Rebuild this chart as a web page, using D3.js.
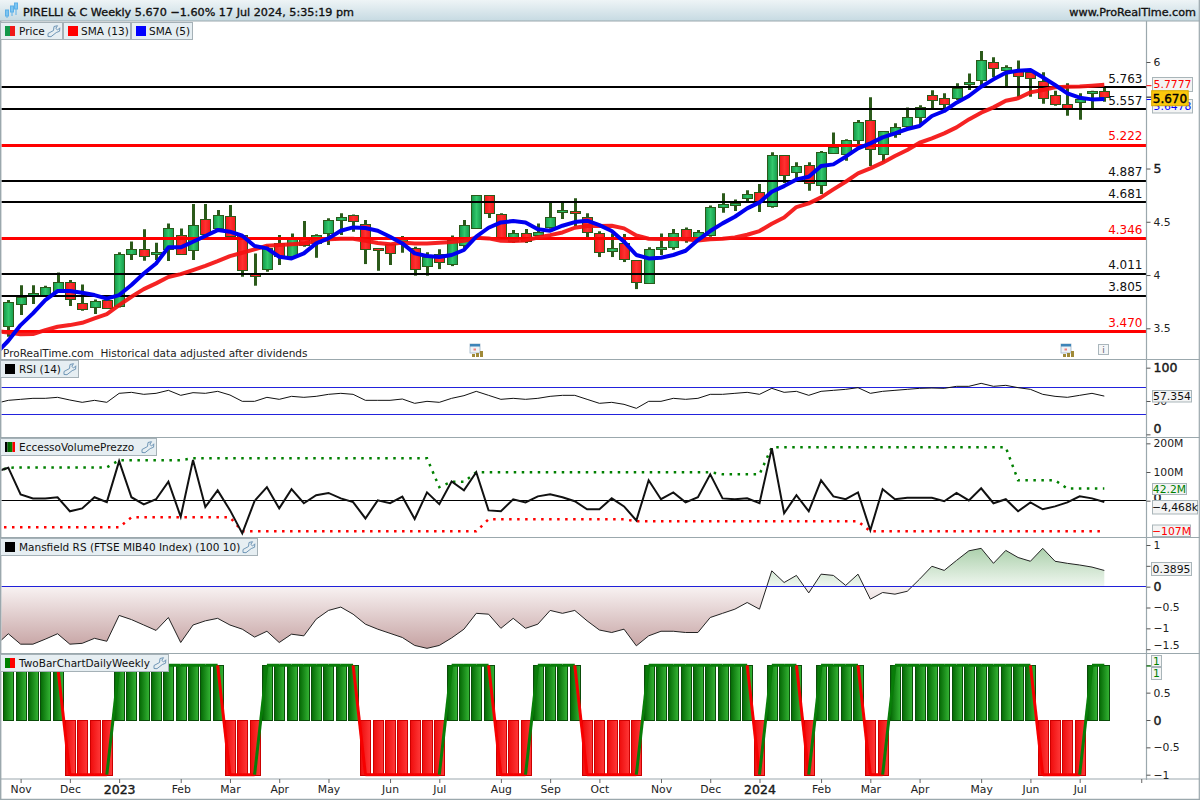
<!DOCTYPE html>
<html><head><meta charset="utf-8">
<script src="https://cdn.jsdelivr.net/npm/d3@7"></script>
<style>html,body{margin:0;padding:0;background:#fff}svg{display:block}text{font-family:"DejaVu Sans",sans-serif;white-space:pre}</style>
</head><body><svg id="c" width="1200" height="800"></svg>
<script>
const opens=[3.524,3.734,3.824,3.815,3.853,3.937,3.734,3.706,3.765,3.702,4.200,4.247,4.203,4.250,4.378,4.241,4.529,4.438,4.557,4.372,4.006,4.053,4.297,4.178,4.360,4.297,4.391,4.522,4.560,4.479,4.250,4.288,4.322,4.250,4.091,4.200,4.106,4.281,4.435,4.748,4.569,4.313,4.391,4.378,4.450,4.601,4.598,4.541,4.391,4.219,4.297,4.138,3.922,4.253,4.260,4.429,4.344,4.369,4.635,4.663,4.717,4.776,4.641,5.123,4.964,5.030,4.842,5.152,5.133,5.270,5.452,5.133,5.324,5.393,5.480,5.687,5.665,5.662,5.803,5.828,5.997,5.931,5.915,5.903,5.825,5.693,5.609,5.630,5.724,5.728];
const closes=[3.749,3.796,3.834,3.890,3.937,3.774,3.677,3.759,3.687,4.194,4.247,4.184,4.219,4.444,4.200,4.472,4.391,4.560,4.372,4.044,3.997,4.250,4.172,4.341,4.281,4.372,4.513,4.548,4.504,4.241,4.235,4.203,4.341,4.053,4.172,4.128,4.328,4.466,4.748,4.579,4.335,4.391,4.313,4.407,4.541,4.607,4.579,4.400,4.213,4.250,4.144,3.931,4.241,4.260,4.391,4.328,4.400,4.635,4.663,4.679,4.757,4.679,5.123,4.936,5.020,4.860,5.152,5.205,5.264,5.436,5.180,5.349,5.393,5.480,5.574,5.640,5.612,5.756,5.809,6.015,5.940,5.956,5.871,5.846,5.665,5.612,5.568,5.656,5.731,5.670];
const highs=[3.765,3.903,3.903,3.900,4.025,3.953,3.912,3.771,3.781,4.213,4.316,4.429,4.303,4.485,4.438,4.666,4.666,4.610,4.657,4.375,4.203,4.281,4.375,4.391,4.507,4.382,4.532,4.579,4.569,4.516,4.250,4.297,4.366,4.266,4.213,4.241,4.372,4.516,4.748,4.748,4.579,4.422,4.432,4.485,4.679,4.679,4.720,4.579,4.410,4.391,4.385,4.138,4.260,4.391,4.432,4.447,4.422,4.654,4.767,4.710,4.795,4.854,5.152,5.123,5.058,5.058,5.164,5.339,5.274,5.455,5.668,5.349,5.424,5.574,5.593,5.734,5.706,5.800,5.893,6.103,6.044,5.969,6.015,5.931,5.903,5.731,5.800,5.706,5.731,5.768];
const lows=[3.421,3.624,3.727,3.796,3.843,3.709,3.665,3.634,3.687,3.696,4.141,4.134,4.141,4.131,4.191,4.141,4.344,4.422,4.360,3.984,3.900,4.031,4.094,4.172,4.266,4.162,4.281,4.375,4.407,4.103,4.040,4.094,4.209,3.994,3.994,4.056,4.084,4.250,4.435,4.535,4.328,4.300,4.300,4.372,4.435,4.526,4.460,4.353,4.169,4.169,4.122,3.868,3.922,4.188,4.238,4.303,4.328,4.360,4.585,4.601,4.688,4.591,4.632,4.864,4.873,4.792,4.760,5.152,5.073,5.220,5.023,5.064,5.289,5.377,5.418,5.565,5.555,5.643,5.737,5.784,5.856,5.774,5.668,5.674,5.609,5.590,5.496,5.458,5.562,5.627];
// moving averages, oscillators: first value belongs to the week before the first candle (clipped at the frame)
const sma13=[3.474,3.461,3.443,3.446,3.483,3.515,3.530,3.552,3.593,3.634,3.718,3.796,3.868,3.922,3.981,4.009,4.047,4.087,4.131,4.178,4.209,4.241,4.275,4.281,4.288,4.297,4.319,4.335,4.341,4.341,4.322,4.300,4.288,4.306,4.297,4.297,4.303,4.310,4.322,4.350,4.344,4.322,4.319,4.325,4.353,4.375,4.400,4.444,4.460,4.460,4.463,4.438,4.372,4.341,4.338,4.338,4.335,4.325,4.335,4.341,4.353,4.378,4.413,4.482,4.541,4.638,4.673,4.729,4.804,4.876,4.954,5.001,5.055,5.117,5.174,5.242,5.283,5.330,5.386,5.461,5.524,5.574,5.637,5.659,5.715,5.737,5.762,5.768,5.771,5.778,5.787];
const sma5=[3.264,3.383,3.530,3.640,3.765,3.850,3.850,3.834,3.812,3.778,3.812,3.906,4.015,4.109,4.260,4.260,4.313,4.366,4.422,4.407,4.369,4.272,4.250,4.172,4.156,4.203,4.297,4.344,4.416,4.447,4.441,4.416,4.360,4.297,4.203,4.178,4.169,4.188,4.235,4.360,4.444,4.494,4.507,4.494,4.429,4.416,4.463,4.497,4.510,4.469,4.413,4.313,4.188,4.156,4.163,4.188,4.228,4.328,4.413,4.485,4.547,4.626,4.682,4.782,4.835,4.898,4.923,5.023,5.039,5.111,5.189,5.236,5.292,5.330,5.371,5.399,5.493,5.540,5.618,5.681,5.768,5.837,5.900,5.918,5.925,5.856,5.784,5.706,5.665,5.649,5.652];
const rsi=[46.5,51,52.5,54,54,55.5,51.5,48,51,48,61.5,63,60,61.5,66,58.5,62.5,61.5,64.5,59,49.5,49.5,55.5,52.5,57,55.5,57,60,61.5,60,51,51,51,53,46.5,49.5,48,54,58,64.5,58.5,52.5,54,52.5,54,57,58.5,58.5,52.5,46.5,48,45,39,49.5,49.5,54,52.5,54,60,60,61.5,63,60,69,63,64.5,58.5,64.5,66,67.5,70,61.5,64.5,66,67.5,69,69.5,69,72,72,76.5,72,73.5,70,67.5,60,57,55.5,58.5,61.5,57.354];
const evp=[101,115,22,8,8,12,-37,-27,12,-5,138,12,-13,5,66,-56,142,-22,36,-33,-114,-1,47,-27,40,-9,19,27,8,-5,-62,1,-9,14,-64,29,-12,67,36,99,-34,-37,5,-6,15,22,12,-2,-30,-30,8,-20,-69,71,5,29,-6,12,92,8,5,8,-9,183,-44,19,-37,71,15,5,29,-103,40,5,10,10,10,-2,27,1,43,-9,5,-37,-6,-30,-20,-6,15,8,-4.468];
const evpUpper=[101,115,116,116,116,116,116,116,116,116,141,141,141,141,141,141,148,148,148,148,148,148,148,148,148,148,148,148,148,148,148,148,148,148,148,148,47,66,66,99,99,99,99,99,99,99,99,99,99,99,99,99,99,99,99,99,99,99,99,92,92,92,92,186,186,186,186,186,186,186,186,186,186,186,186,186,186,186,186,186,186,186,186,71,71,71,71,42.2,42.2,42.2,42.2];
const evpLower=[-93,-93,-93,-93,-93,-93,-93,-93,-93,-93,-93,-58,-58,-58,-58,-58,-58,-58,-58,-58,-107,-107,-107,-107,-107,-107,-107,-107,-107,-107,-107,-107,-107,-107,-107,-107,-107,-107,-107,-107,-65,-65,-65,-65,-65,-65,-65,-65,-65,-65,-65,-65,-72,-72,-72,-72,-72,-72,-72,-72,-72,-72,-72,-72,-72,-72,-72,-72,-72,-72,-72,-107,-107,-107,-107,-107,-107,-107,-107,-107,-107,-107,-107,-107,-107,-107,-107,-107,-107,-107,-107];
const mansfield=[-1.40,-1.13,-1.38,-1.38,-1.26,-1.13,-1.38,-1.36,-1.24,-1.31,-0.69,-0.79,-0.92,-1.05,-0.74,-1.34,-0.92,-0.82,-0.76,-0.92,-1.02,-1.21,-1.07,-1.34,-1.14,-1.18,-0.78,-0.57,-0.49,-0.66,-0.90,-1.02,-1.12,-1.22,-1.41,-1.48,-1.41,-1.23,-1.02,-0.64,-0.66,-1.00,-0.76,-1.00,-0.90,-0.57,-0.64,-0.57,-0.82,-1.04,-1.10,-1.02,-1.42,-1.18,-1.07,-1.07,-1.10,-1.10,-0.74,-0.64,-0.54,-0.38,-0.54,0.38,0.10,0.27,-0.15,0.30,0.27,0.03,0.30,-0.30,-0.14,-0.18,-0.11,0.18,0.49,0.39,0.63,0.86,0.92,0.56,0.87,0.70,0.61,0.92,0.61,0.56,0.52,0.47,0.3895];
const twoBar=[1,1,1,1,1,-1,-1,-1,-1,1,1,1,1,1,1,1,1,1,-1,-1,-1,1,1,1,1,1,1,1,1,-1,-1,-1,-1,-1,-1,-1,1,1,1,1,-1,-1,-1,1,1,1,1,-1,-1,-1,-1,-1,1,1,1,1,1,1,1,1,1,-1,1,1,1,-1,1,1,1,1,-1,-1,1,1,1,1,1,1,1,1,1,1,1,1,-1,-1,-1,-1,1,1];
const blackLevels=[5.763,5.557,4.887,4.681,4.011,3.805];
const redLevels=[5.222,4.346,3.470];
const monthTicks=[1,5,9,14,18,22,26,31,35,40,44,48,53,57,61,66,70,74,79,83,87,92];
const monthLabels=["Nov","Dec","2023","Feb","Mar","Apr","May","Jun","Jul","Aug","Sep","Oct","Nov","Dec","2024","Feb","Mar","Apr","May","Jun","Jul",""];
const titleText="PIRELLI & C Weekly 5.670 −1.60% 17 Jul 2024, 5:35:19 pm";
const frameC="#9ba8ad", legFill="#e6eef2", dark="#2b5a1a";

const svg=d3.select("#c");
const defs=svg.append("defs");
function hgrad(id,stops,y1,y2){
  const g=defs.append("linearGradient").attr("id",id);
  if(y1!==undefined) g.attr("gradientUnits","userSpaceOnUse").attr("x1",0).attr("x2",0).attr("y1",y1).attr("y2",y2);
  stops.forEach((c,i)=>g.append("stop").attr("offset",i/(stops.length-1)).attr("stop-color",c));
}
hgrad("cg",["#13984a","#33c86c","#159a4c"]);
hgrad("cr",["#ee1818","#ff3030","#f01a1a"]);
hgrad("bg",["#046804","#35b535"]);
hgrad("br",["#ee0c0c","#ff3838"]);
hgrad("head",["#eef4f6","#c6dae2"],0,21);
hgrad("mg",["#a6cda6","#f0f7f0"],545,586.7);
hgrad("mr",["#f8f2f2","#c4a0a0"],586.7,650);

const x=d3.scaleLinear().domain([0,89]).range([8.3,1104.3]);
const yP=d3.scaleLinear().domain([3.5,6]).range([328.3,62]);
const yR=d3.scaleLinear().domain([0,100]).range([434.33,367.67]);
const yV=d3.scaleLinear().domain([0,100]).range([500.67,472]);
const yM=d3.scaleLinear().domain([0,1]).range([586.67,545]);
const yT=d3.scaleLinear().domain([-1,1]).range([774.7,665.3]);
const AX=1146.5;
const snap=v=>Math.round(v)+.5;
const floorSnap=v=>Math.floor(v)+.5;

function clip(id,y0,y1){defs.append("clipPath").attr("id",id).append("rect").attr("x",1.5).attr("y",y0).attr("width",AX-1.5).attr("height",y1-y0);}
clip("cp",21,359);clip("cr1",360,437);clip("cv",438,537);clip("cm",538,653);clip("ct",654,779);

// semi-bold look: regular glyph widths with a thin outline
const semi=(t,w)=>t.attr("stroke",t.attr("fill")||"#111").attr("stroke-width",w||.35);

// header
svg.append("rect").attr("x",0).attr("y",0).attr("width",1200).attr("height",21).attr("fill","url(#head)");
const logo=svg.append("g").attr("stroke","#5bb0e8").attr("fill","#7cc4f0");
[[7,13,17,11,16],[12,9,15,7,14],[16,6,12,4,13]].forEach(d=>{logo.append("line").attr("x1",d[0]).attr("x2",d[0]).attr("y1",d[3]).attr("y2",d[4]+2);logo.append("rect").attr("x",d[0]-1.5).attr("y",d[1]-3).attr("width",3).attr("height",6);});
semi(svg.append("text").attr("x",23).attr("y",16).attr("font-size",11.2).attr("fill","#111").text(titleText));
semi(svg.append("text").attr("x",1196).attr("y",16).attr("text-anchor","end").attr("font-size",11.2).attr("fill","#111").text("www.ProRealTime.com"));

// Price panel
const P=svg.append("g").attr("clip-path","url(#cp)");
const idx=d3.range(opens.length);
P.selectAll(".wick").data(idx).join("line").attr("x1",i=>snap(x(i))).attr("x2",i=>snap(x(i))).attr("y1",i=>yP(highs[i])).attr("y2",i=>yP(lows[i])).attr("stroke",dark).attr("stroke-width",3);
P.selectAll(".body").data(idx).join("rect").attr("x",i=>snap(x(i))-5).attr("width",10)
 .attr("y",i=>snap(yP(Math.max(opens[i],closes[i]))))
 .attr("height",i=>Math.max(2,Math.round(Math.abs(yP(opens[i])-yP(closes[i])))))
 .attr("fill",i=>closes[i]>=opens[i]?"url(#cg)":"url(#cr)").attr("stroke",dark).attr("stroke-width",1);
blackLevels.concat(redLevels).forEach(v=>{
  const red=redLevels.includes(v);
  const yy=Math.round(yP(v));
  P.append("line").attr("x1",1).attr("x2",AX).attr("y1",red?yy+.5:yy).attr("y2",red?yy+.5:yy).attr("stroke",red?"#f00":"#000").attr("stroke-width",red?3:2);
});
const lineFrom=(arr,y)=>d3.line().x((d,i)=>x(i-1)).y(d=>y(d))(arr);
P.append("path").attr("d",lineFrom(sma13,yP)).attr("fill","none").attr("stroke","#f41010").attr("stroke-width",4).attr("stroke-linejoin","round").attr("opacity",.92);
P.append("path").attr("d",lineFrom(sma5,yP)).attr("fill","none").attr("stroke","#0000f0").attr("stroke-width",4).attr("stroke-linejoin","round");
blackLevels.concat(redLevels).forEach(v=>{
  svg.append("text").attr("x",1142.5).attr("y",yP(v)-4.6).attr("text-anchor","end").attr("font-size",12).attr("fill",redLevels.includes(v)?"#f00":"#111").text(v.toFixed(3));
});
svg.append("text").attr("x",3).attr("y",357).attr("font-size",10.5).attr("fill","#222").text("ProRealTime.com  Historical data adjusted after dividends");

// calendar & info icons
[476,1067].forEach(cx=>{
  const g=svg.append("g").attr("transform",`translate(${cx-6},344)`);
  g.append("rect").attr("width",10).attr("height",9).attr("fill","#eef2f6").attr("stroke","#9db4c8").attr("stroke-width",.8);
  g.append("rect").attr("width",10).attr("height",2.5).attr("fill","#3d84b8");
  g.append("rect").attr("x",3.5).attr("y",4.5).attr("width",2.5).attr("height",2).attr("fill","#f08080");
  [[2,10,3],[6,9,4],[10,7,6]].forEach(b=>g.append("rect").attr("x",b[0]).attr("y",b[1]).attr("width",3).attr("height",b[2]).attr("fill","#a08a38"));
});
svg.append("rect").attr("x",1098.5).attr("y",344.5).attr("width",10).attr("height",10).attr("fill","#f4f6f7").attr("stroke","#aab6bc");
svg.append("text").attr("x",1103.5).attr("y",353).attr("text-anchor","middle").attr("font-size",9).attr("font-family","DejaVu Serif").attr("fill","#667").text("i");

// RSI
const R=svg.append("g").attr("clip-path","url(#cr1)");
[70,30].forEach(v=>R.append("line").attr("x1",1).attr("x2",AX).attr("y1",floorSnap(yR(v))).attr("y2",floorSnap(yR(v))).attr("stroke","#2222dd").attr("stroke-width",1));
R.append("path").attr("d",lineFrom(rsi,yR)).attr("fill","none").attr("stroke","#111").attr("stroke-width",1);

// Volume
const V=svg.append("g").attr("clip-path","url(#cv)");
V.append("line").attr("x1",1).attr("x2",AX).attr("y1",floorSnap(yV(0))).attr("y2",floorSnap(yV(0))).attr("stroke","#000").attr("stroke-width",1);
const dots=(arr,c)=>V.append("path").attr("d",lineFrom(arr,yV)).attr("fill","none").attr("stroke",c).attr("stroke-width",2.5).attr("stroke-dasharray","2.5 5.5");
dots(evpUpper,"#008000");
dots(evpLower,"#f00");
V.append("path").attr("d",lineFrom(evp,yV)).attr("fill","none").attr("stroke","#111").attr("stroke-width",2).attr("stroke-linejoin","miter");

// Mansfield
const M=svg.append("g").attr("clip-path","url(#cm)");
const area=d3.area().x((d,i)=>x(i-1)).y0(yM(0)).y1(d=>yM(d));
defs.append("clipPath").attr("id","above").append("rect").attr("x",0).attr("y",538).attr("width",1200).attr("height",yM(0)-538);
defs.append("clipPath").attr("id","below").append("rect").attr("x",0).attr("y",yM(0)).attr("width",1200).attr("height",653-yM(0));
M.append("g").attr("clip-path","url(#above)").append("path").attr("d",area(mansfield)).attr("fill","url(#mg)");
M.append("g").attr("clip-path","url(#below)").append("path").attr("d",area(mansfield)).attr("fill","url(#mr)");
M.append("path").attr("d",lineFrom(mansfield,yM)).attr("fill","none").attr("stroke","#222").attr("stroke-width",1);
M.append("line").attr("x1",1).attr("x2",AX).attr("y1",floorSnap(yM(0))).attr("y2",floorSnap(yM(0))).attr("stroke","#2020d8").attr("stroke-width",1);

// TwoBar
const T=svg.append("g").attr("clip-path","url(#ct)");
T.selectAll("rect").data(twoBar).join("rect").attr("x",(d,i)=>snap(x(i))-5).attr("width",10)
 .attr("y",d=>d>0?snap(yT(1)):snap(yT(0))).attr("height",d=>d>0?Math.round(yT(0)-yT(1)):Math.round(yT(-1)-yT(0)))
 .attr("fill",d=>d>0?"url(#bg)":"url(#br)").attr("stroke",d=>d>0?"#0a4d0a":"#cc0000").attr("stroke-width",1);
d3.pairs(twoBar).forEach(([a,b],i)=>{
  T.append("line").attr("x1",x(i)).attr("x2",x(i+1)).attr("y1",yT(a)).attr("y2",yT(b))
   .attr("stroke",b>0?"#087d08":"#f60000").attr("stroke-width",3);
});

// frame
const frame=svg.append("g").attr("stroke",frameC).attr("fill","none");
[21,359.5,437.5,537.5,653.5,779].forEach(y=>frame.append("line").attr("x1",0).attr("x2",1200).attr("y1",y).attr("y2",y).attr("stroke-width",y==21?1:1.2));
frame.append("line").attr("x1",.7).attr("x2",.7).attr("y1",21).attr("y2",800).attr("stroke-width",1.4);
frame.append("line").attr("x1",AX).attr("x2",AX).attr("y1",21).attr("y2",780).attr("stroke-width",1.2);
frame.append("line").attr("x1",0).attr("x2",1200).attr("y1",799.3).attr("y2",799.3).attr("stroke-width",1.2);
frame.append("line").attr("x1",1199.3).attr("x2",1199.3).attr("y1",0).attr("y2",800).attr("stroke-width",1.2);

// axes
function yAxis(scale,vals,fmt,boldVals,dy){
  const g=svg.append("g").attr("transform",`translate(${AX},0)`).call(d3.axisRight(scale).tickValues(vals).tickFormat(fmt).tickSize(4).tickPadding(3));
  g.select(".domain").remove();
  g.selectAll("line").attr("stroke","#555");
  g.selectAll("text").attr("font-size",d=>boldVals.includes(d)?12.5:10.8).attr("stroke",d=>boldVals.includes(d)?"#111":"none").attr("stroke-width",.4).attr("fill","#222").attr("font-family","DejaVu Sans").attr("dy",(d)=>dy&&dy[d]!==undefined?dy[d]:"0.32em");
}
const minus=s=>String(s).replace("-","−");
yAxis(yP,[3.5,4,4.5,5,6],d=>String(d),[5]);
yAxis(yR,[100,50,0],d=>String(d),[100,0],{0:"-2"});
yAxis(yV,[200,100,0],d=>d?d+"M":"0",[0],{0:"1"});
yAxis(yM,[1,0.5,0,-0.5,-1,-1.5],d=>minus(d),[0],{"-1.5":"-0.05em"});
yAxis(yT,[1,0.5,0,-0.5,-1],d=>minus(d),[0]);
const gx=svg.append("g").attr("transform","translate(0,779)").call(d3.axisBottom(x).tickValues(monthTicks).tickFormat((d,i)=>monthLabels[i]).tickSize(4).tickPadding(2));
gx.select(".domain").remove();
gx.selectAll("line").attr("stroke","#666");
gx.selectAll("text").attr("font-family","DejaVu Sans").attr("fill","#222").attr("font-size",(d,i)=>/\d/.test(monthLabels[i])?12.5:10.8).attr("stroke",(d,i)=>/\d/.test(monthLabels[i])?"#111":"none").attr("stroke-width",.4);

// value boxes
function vbox(x0,y0,w,h,txt,col,fill,fs,stroke){
  svg.append("rect").attr("x",x0).attr("y",y0).attr("width",w).attr("height",h).attr("fill",fill||"#f3f4f4").attr("stroke",stroke||"#a9b5b9");
  const t=svg.append("text").attr("x",x0+w/2).attr("y",y0+h/2+(fs||10.8)*.36).attr("text-anchor","middle").attr("font-size",fs||10.8).attr("fill",col).text(txt);
  if(fs) semi(t,.4);
}
[[yP(5.7777),"#f00"],[yP(5.6478),"#00f"],[yP(5.67),"#000"]].forEach(d=>svg.append("line").attr("x1",AX).attr("x2",AX+5).attr("y1",d[0]).attr("y2",d[0]).attr("stroke",d[1]));
vbox(1152.5,99.5,40,13.5,"5.6478","#00f");
vbox(1152.5,77.5,40,14,"5.7777","#f00");
vbox(1151.7,90.7,36.5,15,"5.670","#000","#fbc80c",12,"#d8a800");
vbox(1152.5,390.5,39,11.5,"57.354","#111");
vbox(1152.5,483.5,34,11,"42.2M","#008000");
vbox(1152.5,500.5,45,13.5,"−4,468k","#111");
vbox(1152.5,525,38,11.5,"−107M","#f00");
vbox(1151.5,562.5,40,13,"0.3895","#111");
vbox(1151.5,655.5,10,11,"1","#008000");
vbox(1151.5,667.5,10,12,"1","#008000");
svg.append("line").attr("x1",AX).attr("x2",1151).attr("y1",666).attr("y2",666).attr("stroke","#008000");

// legends
function wrench(x0,y0){
  svg.append("path").attr("transform",`translate(${x0},${y0})`).attr("d","M1 11.5 L1 8.5 L6.5 5.5 L7 1.5 L10.5 0.7 L8.8 3.4 L10.6 5 L12.8 2.8 L12.6 6.2 L9.2 7.6 L4 11.7 Z").attr("fill","none").attr("stroke","#6f96b6").attr("stroke-width",1);
}
function legend(x0,y0,w,h,swatch,label,hasW){
  svg.append("rect").attr("x",x0+.5).attr("y",y0+.5).attr("width",w).attr("height",h).attr("fill",legFill).attr("stroke","#a5b1b7");
  const sw=10,n=swatch.length;
  swatch.forEach((c,i)=>svg.append("rect").attr("x",x0+5+i*sw/n).attr("y",y0+4).attr("width",sw/n).attr("height",10).attr("fill",c));
  svg.append("text").attr("x",x0+(hasW?19:18)).attr("y",y0+13).attr("font-size",10.5).attr("fill","#111").text(label);
  if(hasW) wrench(x0+w-15,y0+3);
}
legend(0,22,62,17,["#13984a","#f01818"],"Price",true);
legend(63,22,67,17,["#f00"],"SMA (13)",false);
legend(131,22,61,17,["#00f"],"SMA (5)",false);
legend(0,360,78,17,["#000"],"RSI (14)",true);
legend(0,438,156,17,["#000","#006400","#008000","#f00"],"EccessoVolumePrezzo",true);
legend(0,538,257,17,["#000"],"Mansfield RS (FTSE MIB40 Index) (100 10)",true);
legend(0,654,168,17,["#008000","#f00"],"TwoBarChartDailyWeekly",true);
</script></body></html>
